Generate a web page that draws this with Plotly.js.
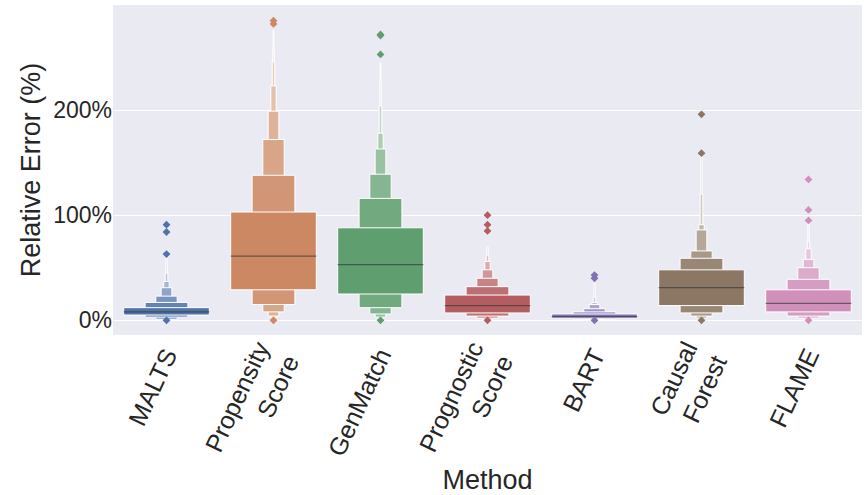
<!DOCTYPE html>
<html><head><meta charset="utf-8">
<script src="https://cdn.plot.ly/plotly-3.0.1.min.js"></script>
<style>body{margin:0}</style></head><body>
<div id="g" style="width:867px;height:495px"></div>
<script>
const methods = ["MALTS","Propensity<br>Score","GenMatch","Prognostic<br>Score","BART","Causal<br>Forest","FLAME"];
const colors = [[79,114,169],[204,136,99],[95,158,110],[180,93,96],[129,114,179],[139,119,99],[208,144,186]];
const yTickVals = [0,100,200];
const yTickText = ["0%","100%","200%"];
const medians = [8,61,53,14,3.5,31,16];
// letter-value boxes per method: level 1 (IQR) outward
const maltsHigh = [12,17,23,31,37,45,59];
const maltsLow  = [5,3,1,0.5,0.3,0.2,0.1];
const propHigh = [103,138,172,199,223,246,258,276];
const propLow  = [29,15,8,4,2,1,0.5,0.2];
const genHigh = [88,116,139,163,178,204,227,245];
const genLow  = [25,12,6,3,1.5,0.8,0.4,0.2];
const progHigh = [24,32,40,48,56,62,70];
const progLow  = [7,4,2,1,0.5,0.3,0.1];
const bartHigh = [6,8,11,15,17,22,35];
const bartLow  = [2,1.2,0.8,0.5,0.3,0.2,0.1];
const cfHigh = [48,59,66,86,91,120,156];
const cfLow  = [14,7,4,2,1,0.5,0.2];
const flameHigh = [29,39,50,58,68,75,92];
const flameLow  = [8,4,2,1,0.5,0.3,0.1];
const outliers = [[0,63,84,91],[0,282,285],[0,253,271,272],[0,85,91,100],[0,40,43],[0,159,196],[0,95,105,134]];

const highs=[maltsHigh,propHigh,genHigh,progHigh,bartHigh,cfHigh,flameHigh];
const lows=[maltsLow,propLow,genLow,progLow,bartLow,cfLow,flameLow];
function col(c,f){return 'rgb('+c.map(v=>Math.round(v+(255-v)*f)).join(',')+')';}
const traces=[];
const maxL=8;
for(let k=maxL-1;k>=0;k--){
  const x=[],y=[],b=[],w=[],cs=[];
  highs.forEach((h,i)=>{ if(k<h.length){
    x.push(i); b.push(lows[i][k]); y.push(h[k]-lows[i][k]);
    w.push(0.8/Math.pow(2,k)); cs.push(col(colors[i],Math.min(0.9,k*0.12)));
  }});
  traces.push({type:'bar',x:x,y:y,base:b,width:w,marker:{color:cs,line:{color:'white',width:1}},hoverinfo:'skip',showlegend:false});
}
medians.forEach((m,i)=>{
  traces.push({type:'scatter',mode:'lines',x:[i-0.4,i+0.4],y:[m,m],line:{color:'rgba(60,60,60,0.7)',width:1.3},showlegend:false});
  traces.push({type:'scatter',mode:'markers',x:outliers[i].map(()=>i),y:outliers[i],marker:{symbol:'diamond',size:6,color:col(colors[i],0)},showlegend:false});
});
const layout={
  barmode:'overlay',paper_bgcolor:'white',plot_bgcolor:'#EAEAF2',
  margin:{l:113,r:5,t:5,b:160},
  font:{family:'Liberation Sans, Arial, sans-serif',color:'#262626'},
  xaxis:{tickvals:[0,1,2,3,4,5,6],ticktext:methods,range:[-0.5,6.5],tickangle:-65,showgrid:false,zeroline:false,automargin:false,
    tickfont:{size:25},title:{text:'Method',font:{size:27},standoff:2}},
  yaxis:{range:[-14,300],tickvals:yTickVals,ticktext:yTickText,gridcolor:'white',gridwidth:1.2,zeroline:false,automargin:false,
    tickfont:{size:23},title:{text:'Relative Error (%)',font:{size:27},standoff:4}}
};
Plotly.newPlot('g',traces,layout,{displayModeBar:false});
</script></body></html>
